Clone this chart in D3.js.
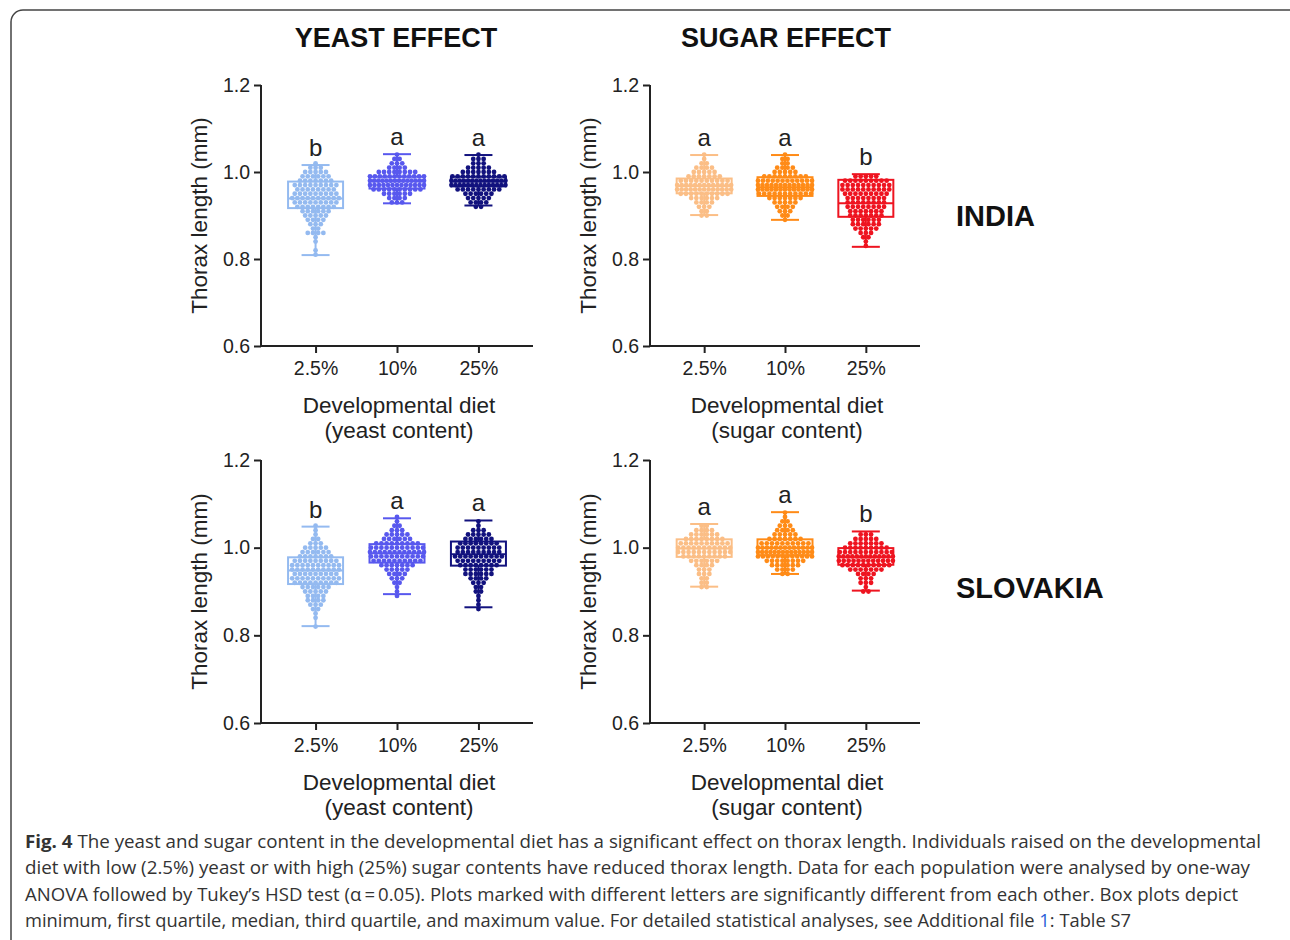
<!DOCTYPE html>
<html>
<head>
<meta charset="utf-8">
<script src="https://cdn.jsdelivr.net/npm/d3@7"></script>
<style>
  body { margin: 0; background: #fff; }
  svg { display: block; }
</style>
</head>
<body>
<svg width="1290" height="940"></svg>
<script>
// categories and colours
var dietLevels = ["2.5%", "10%", "25%"];
var yTicks = [0.6, 0.8, 1.0, 1.2];
var yeastColors = ["#94baf0", "#5858ee", "#12127e"];
var sugarColors = ["#fbbe86", "#ff8b17", "#ee1420"];

// box stats per diet: [min, q1, median, q3, max]
var indiaYeastBox = [[0.809, 0.917, 0.939, 0.978, 1.016], [0.928, 0.962, 0.979, 0.989, 1.041], [0.923, 0.967, 0.978, 0.989, 1.039]];
var indiaSugarBox = [[0.901, 0.951, 0.968, 0.985, 1.039], [0.890, 0.945, 0.965, 0.988, 1.039], [0.828, 0.897, 0.928, 0.982, 0.995]];
var slovakiaYeastBox = [[0.821, 0.917, 0.948, 0.978, 1.048], [0.894, 0.966, 0.987, 1.008, 1.067], [0.864, 0.959, 0.985, 1.014, 1.062]];
var slovakiaSugarBox = [[0.911, 0.979, 0.998, 1.019, 1.054], [0.940, 0.983, 0.999, 1.019, 1.081], [0.902, 0.961, 0.978, 0.999, 1.037]];

// individual flies, counted in 0.01 mm rows (first row value, then counts going up)
var indiaYeastLow = [0.81, 0.93, 0.92];
var indiaYeastCounts = [
  [1, 1, 0, 1, 1, 4, 2, 3, 4, 5, 6, 8, 9, 10, 9, 8, 9, 7, 6, 5, 3, 1],
  [3, 4, 6, 10, 13, 14, 12, 8, 4, 3, 2, 1],
  [2, 4, 5, 6, 9, 14, 14, 11, 7, 5, 3, 3, 1]
];
var indiaSugarLow = [0.90, 0.89, 0.83];
var indiaSugarCounts = [
  [2, 2, 3, 4, 6, 10, 13, 13, 10, 7, 5, 4, 2, 1, 1],
  [1, 2, 3, 4, 5, 7, 11, 13, 13, 12, 9, 5, 4, 2, 2, 1],
  [1, 1, 2, 3, 5, 6, 6, 7, 7, 8, 8, 8, 9, 10, 10, 9, 5]
];
var slovakiaYeastLow = [0.82, 0.89, 0.86];
var slovakiaYeastCounts = [
  [1, 0, 1, 1, 2, 3, 4, 4, 5, 6, 9, 10, 9, 10, 10, 9, 7, 6, 5, 3, 2, 1, 1, 1],
  [1, 1, 1, 2, 3, 4, 5, 7, 10, 11, 12, 11, 9, 6, 5, 3, 2, 1, 1],
  [1, 1, 1, 1, 2, 2, 3, 4, 6, 6, 8, 9, 10, 9, 9, 8, 6, 5, 3, 1, 1]
];
var slovakiaSugarLow = [0.91, 0.94, 0.90];
var slovakiaSugarCounts = [
  [2, 2, 2, 3, 3, 4, 6, 9, 11, 11, 10, 8, 6, 4, 2],
  [2, 4, 6, 8, 12, 14, 13, 10, 7, 5, 4, 3, 2, 1, 1],
  [2, 1, 3, 3, 4, 7, 10, 12, 13, 11, 9, 7, 5, 3]
];

// Tukey letters
var indiaYeastLetters = ["b", "a", "a"];
var indiaSugarLetters = ["a", "a", "b"];
var slovakiaYeastLetters = ["b", "a", "a"];
var slovakiaSugarLetters = ["a", "a", "b"];

var captionLines = [
  [["Fig. 4", true], [" The yeast and sugar content in the developmental diet has a significant effect on thorax length. Individuals raised on the developmental", false]],
  [["diet with low (2.5%) yeast or with high (25%) sugar contents have reduced thorax length. Data for each population were analysed by one-way", false]],
  [["ANOVA followed by Tukey\u2019s HSD test (\u03b1\u2009=\u20090.05). Plots marked with different letters are significantly different from each other. Box plots depict", false]],
  [["minimum, first quartile, median, third quartile, and maximum value. For detailed statistical analyses, see Additional file ", false], ["1", false, "#2a5fd8"], [": Table S7", false]]
];
var captionEnds = [1261, 1250, 1238, 1131];

var svg = d3.select("svg");
var sans = "'Liberation Sans', Arial, sans-serif";

// figure frame
svg.append("rect")
  .attr("x", 11).attr("y", 10)
  .attr("width", 1300).attr("height", 960)
  .attr("rx", 12)
  .attr("fill", "none")
  .attr("stroke", "#444")
  .attr("stroke-width", 1.5);

var panels = [
  {left: 261, right: 533, top: 85, bottom: 346, box: indiaYeastBox, low: indiaYeastLow, counts: indiaYeastCounts, letters: indiaYeastLetters, colors: yeastColors, what: "(yeast content)"},
  {left: 650, right: 920, top: 85, bottom: 346, box: indiaSugarBox, low: indiaSugarLow, counts: indiaSugarCounts, letters: indiaSugarLetters, colors: sugarColors, what: "(sugar content)"},
  {left: 261, right: 533, top: 460, bottom: 723, box: slovakiaYeastBox, low: slovakiaYeastLow, counts: slovakiaYeastCounts, letters: slovakiaYeastLetters, colors: yeastColors, what: "(yeast content)"},
  {left: 650, right: 920, top: 460, bottom: 723, box: slovakiaSugarBox, low: slovakiaSugarLow, counts: slovakiaSugarCounts, letters: slovakiaSugarLetters, colors: sugarColors, what: "(sugar content)"}
];

panels.forEach(function(p) {
  var x = d3.scalePoint().domain(dietLevels).range([p.left, p.right]).padding(0.67);
  var y = d3.scaleLinear().domain([0.6, 1.2]).range([p.bottom, p.top]);
  var g = svg.append("g");

  // y axis
  var ya = g.append("g")
    .attr("transform", "translate(" + p.left + ",0)")
    .call(d3.axisLeft(y).tickValues(yTicks).tickFormat(d3.format(".1f")).tickSize(7).tickPadding(4));
  // x axis
  var xa = g.append("g")
    .attr("transform", "translate(0," + p.bottom + ")")
    .call(d3.axisBottom(x).tickSize(7).tickPadding(8).tickSizeOuter(0));
  xa.select(".domain").attr("d", "M" + p.left + ",0H" + p.right);
  ya.select(".domain").attr("d", "M0," + p.top + "V" + p.bottom);
  g.selectAll(".domain, .tick line").attr("stroke", "#222").attr("stroke-width", 2);
  g.selectAll(".tick text").attr("font-family", sans).attr("font-size", 19.5).attr("fill", "#222");

  // axis titles
  g.append("text")
    .attr("transform", "translate(" + (p.left - 54) + "," + ((p.top + p.bottom) / 2) + ") rotate(-90)")
    .attr("text-anchor", "middle")
    .attr("font-family", sans).attr("font-size", 22.5).attr("fill", "#222")
    .text("Thorax length (mm)");
  var cx = (p.left + p.right) / 2 + 2;
  g.append("text").attr("x", cx).attr("y", p.bottom + 67)
    .attr("text-anchor", "middle").attr("font-family", sans).attr("font-size", 22.5).attr("fill", "#222")
    .text("Developmental diet");
  g.append("text").attr("x", cx).attr("y", p.bottom + 92)
    .attr("text-anchor", "middle").attr("font-family", sans).attr("font-size", 22.5).attr("fill", "#222")
    .text(p.what);

  dietLevels.forEach(function(level, i) {
    var c = p.colors[i];
    var xc = x(level);
    var b = p.box[i];
    var bg = g.append("g");

    // dots: each 0.01 row spread sideways, kept within the box width
    var dots = [];
    p.counts[i].forEach(function(n, k) {
      var v = p.low[i] + k * 0.01;
      var step = n > 1 ? Math.min(5.2, 54 / (n - 1)) : 0;
      for (var j = 0; j < n; j++) dots.push({v: v, off: (j - (n - 1) / 2) * step});
    });
    bg.selectAll("circle").data(dots).enter().append("circle")
      .attr("cx", function(d) { return xc + d.off; })
      .attr("cy", function(d) { return y(d.v); })
      .attr("r", 2.4)
      .attr("fill", c);

    // box and whiskers
    var hw = 27.5, cw = 14;
    bg.append("rect")
      .attr("x", xc - hw).attr("y", y(b[3]))
      .attr("width", hw * 2).attr("height", y(b[1]) - y(b[3]))
      .attr("fill", "none").attr("stroke", c).attr("stroke-width", 2);
    var segs = [
      [xc - hw, b[2], xc + hw, b[2]],
      [xc, b[3], xc, b[4]],
      [xc, b[1], xc, b[0]],
      [xc - cw, b[4], xc + cw, b[4]],
      [xc - cw, b[0], xc + cw, b[0]]
    ];
    bg.selectAll("line").data(segs).enter().append("line")
      .attr("x1", function(d) { return d[0]; })
      .attr("y1", function(d) { return y(d[1]); })
      .attr("x2", function(d) { return d[2]; })
      .attr("y2", function(d) { return y(d[3]); })
      .attr("stroke", c).attr("stroke-width", 2);

    // significance letter
    g.append("text")
      .attr("x", xc).attr("y", y(b[4]) - 9)
      .attr("text-anchor", "middle")
      .attr("font-family", sans).attr("font-size", 24).attr("fill", "#222")
      .text(p.letters[i]);
  });
});

// column and row headings
var headings = [
  ["YEAST EFFECT", 396, 47, "middle", 27],
  ["SUGAR EFFECT", 786, 47, "middle", 27],
  ["INDIA", 956, 226, "start", 29],
  ["SLOVAKIA", 956, 598, "start", 29]
];
svg.selectAll(".heading").data(headings).enter().append("text")
  .attr("class", "heading")
  .attr("x", function(d) { return d[1]; })
  .attr("y", function(d) { return d[2]; })
  .attr("text-anchor", function(d) { return d[3]; })
  .attr("font-family", sans).attr("font-weight", "bold")
  .attr("font-size", function(d) { return d[4]; })
  .attr("fill", "#111")
  .text(function(d) { return d[0]; });

// caption
captionLines.forEach(function(line, i) {
  var t = svg.append("text")
    .attr("x", 25).attr("y", 848 + i * 26.3)
    .attr("font-family", "'Open Sans', sans-serif").attr("font-size", 18).attr("fill", "#333")
    .attr("textLength", captionEnds[i] - 25)
    .attr("lengthAdjust", "spacingAndGlyphs");
  line.forEach(function(part) {
    t.append("tspan")
      .attr("font-weight", part[1] ? "bold" : "normal")
      .attr("fill", part[2] || "#333")
      .text(part[0]);
  });
});
</script>
</body>
</html>
